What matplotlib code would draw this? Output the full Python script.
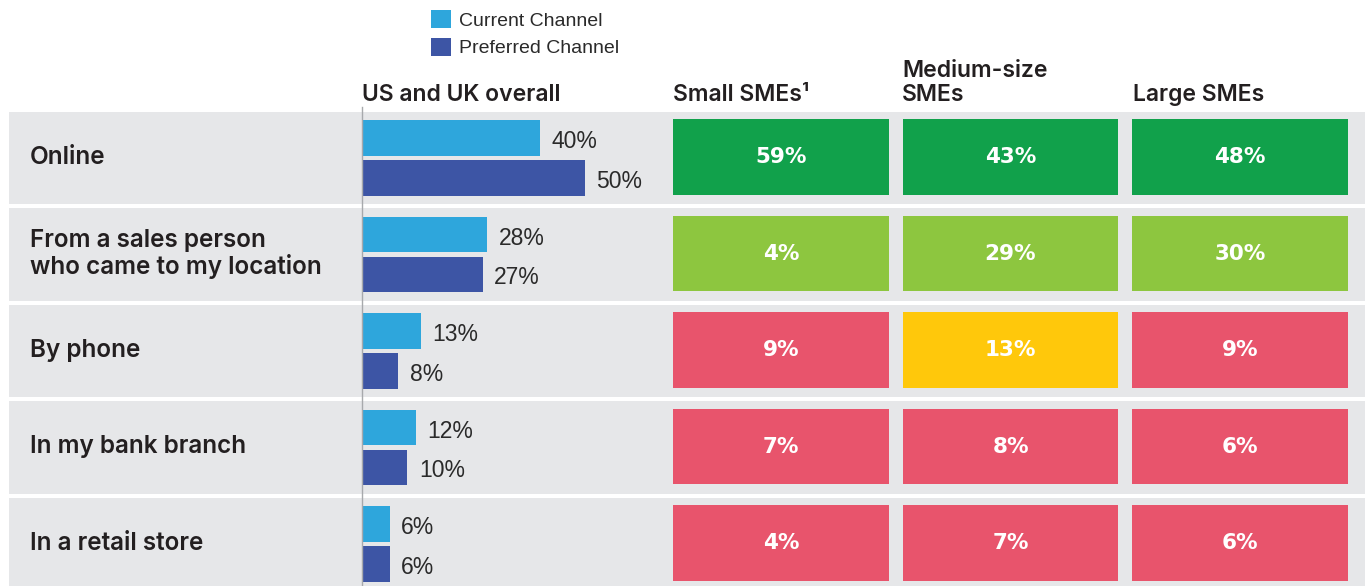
import matplotlib.pyplot as plt

channels = ["Online", "From a sales person\nwho came to my location", "By phone",
            "In my bank branch", "In a retail store"]
current = [40, 28, 13, 12, 6]
preferred = [50, 27, 8, 10, 6]

segments = ["Small SMEs\u00b9", "Medium-size\nSMEs", "Large SMEs"]
small_sme = [59, 4, 9, 7, 4]
medium_sme = [43, 29, 13, 8, 7]
large_sme = [48, 30, 9, 6, 6]
# tier of each cell, rows = channels, cols = segments
tiers = [
    ["top", "top", "top"],
    ["second", "second", "second"],
    ["low", "mid", "low"],
    ["low", "low", "low"],
    ["low", "low", "low"],
]

tier_colors = {"top": "#11A14B", "second": "#8DC63F", "mid": "#FFC80B", "low": "#E8546C"}
c_current = "#2EA6DC"
c_preferred = "#3D55A5"
band = "#E6E7E9"
text_c = "#231F20"

W, H = 1370, 586
fig = plt.figure(figsize=(W / 100, H / 100), dpi=100)

# shared row coordinate: row i centred at i
px_row = 96.5
row0 = 158
ylim = ((H - row0) / px_row, -row0 / px_row)

bg = fig.add_axes([0, 0, 1, 1])
bg.set_xlim(0, W)
bg.set_ylim(*ylim)
bg.axis("off")

n = len(channels)
for i, name in enumerate(channels):
    bg.axhspan(i - 0.477, i + 0.477, xmin=9 / W, xmax=1365 / W, color=band, lw=0, zorder=0)
    bg.text(30, i - 0.01, name, ha="left", va="center", fontsize=17.5, fontweight="semibold",
            family="Inter", color=text_c, linespacing=1.1)

# overall bars
px_pct = 4.43
axb = fig.add_axes([363 / W, 0, 300 / W, 1])
axb.set_ylim(*ylim)
axb.set_xlim(0, 300 / px_pct)
axb.axis("off")
rows = list(range(n))
axb.barh([r - 0.207 for r in rows], current, height=0.37, color=c_current, label="Current Channel")
axb.barh([r + 0.207 for r in rows], preferred, height=0.37, color=c_preferred, label="Preferred Channel")
for r in rows:
    axb.text(current[r] + 2.6, r - 0.17, f"{current[r]}%", va="center", ha="left",
             fontsize=16.5, family="Liberation Sans", color="#2a2a2a")
    axb.text(preferred[r] + 2.6, r + 0.24, f"{preferred[r]}%", va="center", ha="left",
             fontsize=16.5, family="Liberation Sans", color="#2a2a2a")
axb.plot([-0.2, -0.2], [ylim[0], -0.53], color="#A7A9AC", lw=1, clip_on=False)

# segment grid
axh = fig.add_axes([673 / W, 0, 675 / W, 1])
axh.set_ylim(*ylim)
axh.set_xlim(-0.4706, 2.4706)
axh.axis("off")
cols = [small_sme, medium_sme, large_sme]
for j, vals in enumerate(cols):
    axh.bar([j] * n, [0.78] * n, bottom=[r - 0.40 for r in rows], width=0.941,
            color=[tier_colors[tiers[r][j]] for r in rows])
    for r in rows:
        axh.text(j, r - 0.01, f"{vals[r]}%", ha="center", va="center", color="white",
                 fontsize=15.5, fontweight="bold", family="DejaVu Sans")

# headers
hdr_y = 1 - 101 / H
fig.text(362 / W, hdr_y, "US and UK overall", ha="left", va="baseline", fontsize=16.5,
         fontweight="semibold", family="Inter", color=text_c)
for x, s in zip([673, 902, 1133], segments):
    fig.text(x / W, hdr_y, s, ha="left", va="baseline", fontsize=16.5, fontweight="semibold",
             family="Inter", color=text_c, linespacing=1.1)

fig.legend(loc="upper left", bbox_to_anchor=(431 / W, 1 - 10 / H), frameon=False,
           prop={"family": "Liberation Sans", "size": 14},
           handlelength=1.05, handleheight=1.05, handletextpad=0.4, labelspacing=0.42,
           borderaxespad=0, borderpad=0, labelcolor="#2a2a2a")

fig.savefig("out.png", dpi=100)
